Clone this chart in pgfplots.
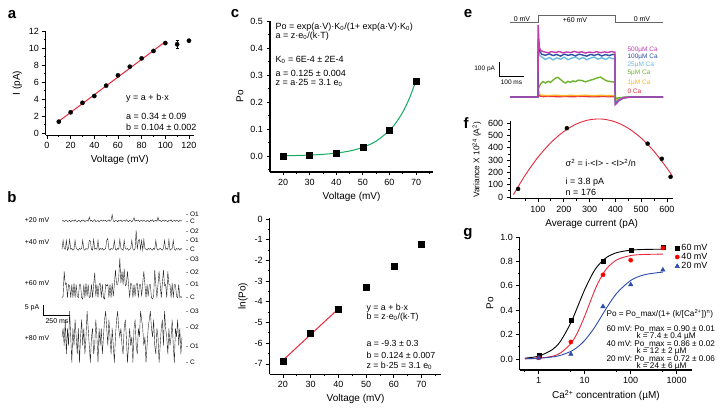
\documentclass[border=0pt]{standalone}
\usepackage{fontspec}
\setmainfont{Liberation Sans}
\usepackage{pgfplots}
\pgfplotsset{compat=1.18}
\newcommand{\fsz}[1]{\fontsize{#1}{#1}\selectfont}
\definecolor{fitred}{RGB}{230,40,60}
\definecolor{fitgreen}{RGB}{20,170,95}
\definecolor{cMag}{RGB}{195,60,175}
\definecolor{cDblue}{RGB}{45,80,165}
\definecolor{cLblue}{RGB}{105,185,225}
\definecolor{cGreen}{RGB}{110,180,45}
\definecolor{cOrange}{RGB}{250,180,40}
\definecolor{cRed}{RGB}{235,45,55}
\definecolor{gblue}{RGB}{45,75,170}
\pgfplotsset{
  panel/.style={
    scale only axis, clip=false, anchor=south west,
    axis lines=left, axis line style={-, line width=1.1pt},
    tick align=outside, tick style={black, line width=0.8pt},
    major tick length=3.5pt, minor tick length=2pt,
    tick label style={font=\fsz{9}},
    label style={font=\fsz{10}},
    /pgf/number format/assume math mode=true,
  },
  trace/.style={scale only axis, hide axis, clip=false, anchor=south west},
}
\begin{document}
\begin{tikzpicture}
\path[use as bounding box] (0,0) rectangle (726pt,410pt);
% panel letters
\node[font=\fsz{15}\bfseries] at (12pt,395pt) {a};
\node[font=\fsz{15}\bfseries] at (12pt,213pt) {b};
\node[font=\fsz{15}\bfseries] at (235pt,396pt) {c};
\node[font=\fsz{15}\bfseries] at (236pt,212pt) {d};
\node[font=\fsz{15}\bfseries] at (468pt,396pt) {e};
\node[font=\fsz{15}\bfseries] at (466pt,287pt) {f};
\node[font=\fsz{15}\bfseries] at (468pt,176pt) {g};

% ---------------- panel a
\begin{axis}[panel, at={(45.8pt,274.9pt)}, width=147.9pt, height=104.1pt,
  xmin=-1, xmax=124, ymin=-0.25, ymax=12,
  xtick={0,20,40,60,80,100,120}, minor xtick={10,30,50,70,90,110},
  ytick={0,2,4,6,8,10,12}, minor ytick={1,3,5,7,9,11},
  xlabel={Voltage (mV)}, ylabel={I (pA)}]
\addplot[fitred, line width=1pt] coordinates {(10,1.38)(100,10.74)};
\addplot[only marks, mark=*, mark size=2.1pt, black,
  error bars/.cd, y dir=both, y explicit, error mark options={rotate=90, mark size=1.5pt}]
  coordinates {(10,1.33)+-(0,0) (20,2.43)+-(0,0.08) (30,3.55)+-(0,0.2) (40,4.35)+-(0,0.08)
  (50,5.57)+-(0,0.08) (60,6.78)+-(0,0.08) (70,7.8)+-(0,0.08) (80,8.78)+-(0,0.08)
  (90,9.65)+-(0,0.08) (100,10.58)+-(0,0.15) (110,10.43)+-(0,0.45) (120,10.86)+-(0,0)};
\node[anchor=west, font=\fsz{9}] at (axis cs:64,4.1) {y = a + b·x};
\node[anchor=west, font=\fsz{9}] at (axis cs:64,1.9) {a = 0.34 ± 0.09};
\node[anchor=west, font=\fsz{9}] at (axis cs:64,0.7) {b = 0.104 ± 0.002};
\end{axis}

% ---------------- panel b
\begin{axis}[trace, at={(62pt,40pt)}, width=120pt, height=165pt,
  xmin=0, xmax=1100, ymin=0, ymax=82.5]
% +20 mV
\addplot[black!85, line width=0.4pt] table[row sep=\\, x expr=\coordindex*10, y expr=74.5+3.2*\thisrow{l}] {
l\\ 0\\ 0.1\\ -0.1\\ 0.05\\ 0.15\\ -0.1\\ 0\\ 0.1\\ -0.15\\ 0.05\\
0.1\\ -0.05\\ 0.2\\ 0\\ -0.1\\ 0.1\\ 0.05\\ -0.15\\ 0.1\\ 0\\
0.15\\ -0.1\\ 0.05\\ 0.1\\ -0.05\\ 0.6\\ 0\\ 0.1\\ -0.1\\ 0.05\\
0.2\\ -0.1\\ 0\\ 0.1\\ -0.15\\ 0.05\\ 0.15\\ -0.05\\ 0.1\\ 0\\
0.1\\ -0.1\\ 0.05\\ 0.2\\ -0.05\\ 0.1\\ 1.0\\ 0\\ -0.1\\ 0.1\\
0.05\\ -0.15\\ 0.1\\ 0\\ 0.15\\ -0.1\\ 0.05\\ 0.1\\ -0.05\\ 0.2\\
0\\ -0.1\\ 0.1\\ 0.05\\ -0.15\\ 0.1\\ 0.5\\ -0.05\\ 0.1\\ 0\\
0.15\\ -0.1\\ 0.05\\ 0.1\\ -0.05\\ 0.15\\ 0\\ -0.1\\ 0.1\\ 0.05\\
-0.15\\ 0.1\\ 0\\ 0.2\\ -0.1\\ 0.05\\ 0.1\\ -0.05\\ 0.6\\ 0\\
0.1\\ -0.1\\ 0.05\\ 0.15\\ -0.05\\ 0.1\\ 0\\ -0.15\\ 0.1\\ 0.05\\
0.2\\ -0.1\\ 0\\ 0.1\\ -0.05\\ 0.15\\ 0.05\\ -0.1\\ 0.1\\ 0\\ 0.05\\
};
% +40 mV
\addplot[black!85, line width=0.4pt] table[row sep=\\, x expr=\coordindex*10, y expr=60.35+4.5*\thisrow{l}] {
l\\ 0\\ 1\\ 0.1\\ 0\\ 1\\ -0.1\\ 0.1\\ 1.1\\ 0\\ 0.1\\
-0.1\\ 0\\ 1\\ 0.1\\ 0\\ -0.1\\ 0.1\\ 0\\ 0.1\\ 1\\
0\\ -0.1\\ 0.1\\ 0\\ 0.1\\ 1\\ 0.9\\ 0\\ -0.1\\ 1.1\\
0\\ 0.1\\ 0\\ 1\\ -0.1\\ 0.1\\ 0\\ 0.1\\ -0.1\\ 0\\
0.1\\ 1\\ 1.2\\ 0\\ -0.1\\ 0.1\\ 0\\ 0.1\\ 1\\ 0\\
-0.1\\ 0.1\\ 0\\ 1.1\\ 0.1\\ 0\\ -0.1\\ 1\\ 0.1\\ 0\\
0.1\\ -0.1\\ 0\\ 0.1\\ 1\\ 0\\ -0.1\\ 0.1\\ 2.1\\ 0\\
1\\ 1.1\\ 0\\ 1\\ -0.1\\ 1.1\\ 0.1\\ 0\\ -0.1\\ 0.1\\
0\\ 0.1\\ 0\\ -0.1\\ 0.1\\ 0\\ 1\\ 0.1\\ -0.1\\ 0\\
0.1\\ 0\\ -0.1\\ 0.1\\ 1\\ 0\\ 0.1\\ 0\\ 1.1\\ -0.1\\
0\\ 0.1\\ 1\\ 0\\ -0.1\\ 0.1\\ 0\\ 0.1\\ -0.1\\ 0.1\\ 0\\
};
% +60 mV
\addplot[black!85, line width=0.4pt] table[row sep=\\, x expr=\coordindex*10, y expr=36.15+6.6*\thisrow{l}] {
l\\ 0\\ 0.1\\ 2.0\\ 1\\ 1.1\\ 0\\ 1\\ 0.9\\ 0\\ 1\\
0\\ 1.1\\ 0\\ 1\\ 0.1\\ 0\\ 1\\ 1\\ 0\\ -0.1\\
1\\ 0\\ 1.1\\ 0.1\\ 1\\ 0\\ 0.1\\ 1\\ 0\\ 1\\
1.9\\ 0.1\\ 1\\ 0\\ 1\\ 1.1\\ 0\\ 1\\ 0\\ -0.1\\
1\\ 0.9\\ 1\\ 0\\ 1\\ 0\\ 1.1\\ 0.1\\ 1\\ 2.1\\
1\\ 1\\ 1.5\\ 3\\ 1.1\\ 2\\ 1\\ 2.2\\ 0.9\\ 1\\
2\\ 1\\ 0\\ 1.1\\ 1\\ 0\\ 1\\ 0.1\\ 1\\ 1.1\\
0\\ 1\\ 1\\ 0.1\\ 1.1\\ 2\\ 1\\ 0\\ 1\\ 0.1\\
1\\ 1\\ 0\\ -0.1\\ 0.1\\ 2.1\\ 1\\ 0\\ 1\\ 2\\
1\\ 0\\ 1.1\\ 2.1\\ 0.9\\ 1\\ 0\\ 2\\ 1\\ 1\\
0\\ 1.1\\ 0\\ 1\\ 1\\ 0.1\\ 0\\ 1\\ 0\\ 0.1\\ 0\\
};
% +80 mV
\addplot[black!85, line width=0.4pt] table[row sep=\\, x expr=\coordindex*10, y expr=3.65+8.6*\thisrow{l}] {
l\\ 1.5\\ 2\\ 1\\ 2.5\\ 0.5\\ 2\\ 1\\ 3\\ 1.5\\ 0\\
2\\ 1\\ 2.5\\ 1.5\\ 0.5\\ 2\\ 0\\ 1.5\\ 2.5\\ 1\\
2\\ 0.5\\ 1.5\\ 3\\ 2\\ 1\\ 0\\ 1.5\\ 2\\ 0.5\\
1\\ 2.5\\ 1.5\\ 0\\ 2\\ 1\\ 2\\ 0.5\\ 1.5\\ 2.5\\
3\\ 2\\ 1\\ 2.5\\ 1.5\\ 0.5\\ 2\\ 1\\ 0\\ 1.5\\
2.5\\ 3\\ 2\\ 1.5\\ 2\\ 1\\ 0.5\\ 2\\ 2.5\\ 1.5\\
0\\ 1\\ 2\\ 1\\ 1.5\\ 0\\ 2\\ 2.5\\ 1\\ 0.5\\
2\\ 1.5\\ 3\\ 2.5\\ 2\\ 1\\ 1.5\\ 0\\ 1\\ 2\\
2.5\\ 3\\ 2\\ 1.5\\ 2.5\\ 1\\ 0.5\\ 2\\ 1.5\\ 0\\
1\\ 2\\ 2.5\\ 1\\ 3\\ 2\\ 1.5\\ 0.5\\ 2\\ 1\\
1.5\\ 2.5\\ 1\\ 0\\ 2\\ 1.5\\ 2.5\\ 1\\ 2\\ 0.5\\ 1.5\\
};
% scale bar
\addplot[black, line width=0.6pt] coordinates {(-174,32.5)(-174,27.5)(73,27.5)};
\node[anchor=east, font=\fsz{7}] at (axis cs:-176,31) {5 pA};
\node[anchor=north, font=\fsz{7}] at (axis cs:-46,27.5) {250 ms};
% left labels
\node[anchor=east, font=\fsz{7}] at (axis cs:-85,75) {+20 mV};
\node[anchor=east, font=\fsz{7}] at (axis cs:-85,64) {+40 mV};
\node[anchor=east, font=\fsz{7}] at (axis cs:-85,43.5) {+60 mV};
\node[anchor=east, font=\fsz{7}] at (axis cs:-85,16) {+80 mV};
% right labels
\node[anchor=west, font=\fsz{6.5}] at (axis cs:1105,77.85) {- O1};
\node[anchor=west, font=\fsz{6.5}] at (axis cs:1105,74.5) {- C};
\node[anchor=west, font=\fsz{6.5}] at (axis cs:1105,69.5) {- O2};
\node[anchor=west, font=\fsz{6.5}] at (axis cs:1105,64.85) {- O1};
\node[anchor=west, font=\fsz{6.5}] at (axis cs:1105,60.35) {- C};
\node[anchor=west, font=\fsz{6.5}] at (axis cs:1105,55.5) {- O3};
\node[anchor=west, font=\fsz{6.5}] at (axis cs:1105,48.65) {- O2};
\node[anchor=west, font=\fsz{6.5}] at (axis cs:1105,43) {- O1};
\node[anchor=west, font=\fsz{6.5}] at (axis cs:1105,36.15) {- C};
\node[anchor=west, font=\fsz{6.5}] at (axis cs:1105,29.5) {- O3};
\node[anchor=west, font=\fsz{6.5}] at (axis cs:1105,21.15) {- O2};
\node[anchor=west, font=\fsz{6.5}] at (axis cs:1105,11.65) {- O1};
\node[anchor=west, font=\fsz{6.5}] at (axis cs:1105,3.65) {- C};
\end{axis}

% ---------------- panel c
\begin{axis}[panel, at={(270pt,238pt)}, width=163.1pt, height=150.9pt,
  xmin=15.1, xmax=76.4, ymin=-0.059, ymax=0.5,
  xtick={20,30,40,50,60,70}, minor xtick={25,35,45,55,65,75},
  ytick={0,0.1,0.2,0.3,0.4,0.5}, minor ytick={-0.05,0.05,0.15,0.25,0.35,0.45},
  yticklabel style={/pgf/number format/.cd, fixed, fixed zerofill, precision=1},
  xlabel={Voltage (mV)}, ylabel={Po}]
\addplot[fitgreen, line width=1pt, smooth] coordinates {(20,0.00126)(25,0.00217)(30,0.00372)(35,0.0064)(40,0.011)(45,0.0188)(50,0.0323)(55,0.0554)(60,0.095)(62.5,0.1245)(65,0.163)(67.5,0.214)(70,0.28)};
\addplot[only marks, mark=square*, mark size=3pt, black] coordinates {(20,0.0)(30,0.004)(40,0.010)(50,0.034)(60,0.094)(70,0.279)};
\node[anchor=west, font=\fsz{9}] at (axis cs:15.9,0.478) {Po = exp(a·V)·K\textsubscript{0}/(1+ exp(a·V)·K\textsubscript{0})};
\node[anchor=west, font=\fsz{9}] at (axis cs:15.9,0.444) {a = z·e\textsubscript{0}/(k·T)};
\node[anchor=west, font=\fsz{9}] at (axis cs:15.9,0.356) {K\textsubscript{0} = 6E-4 ± 2E-4};
\node[anchor=west, font=\fsz{9}] at (axis cs:15.9,0.307) {a = 0.125 ± 0.004};
\node[anchor=west, font=\fsz{9}] at (axis cs:15.9,0.270) {z = a·25 = 3.1 e\textsubscript{0}};
\end{axis}

% ---------------- panel d
\begin{axis}[panel, at={(269.7pt,35.75pt)}, width=171.7pt, height=156.3pt,
  xmin=15.2, xmax=77.2, ymin=-7.5, ymax=0.05,
  xtick={20,30,40,50,60,70}, minor xtick={25,35,45,55,65,75},
  ytick={-7,-6,-5,-4,-3,-2,-1,0}, minor ytick={-6.5,-5.5,-4.5,-3.5,-2.5,-1.5,-0.5},
  xlabel={Voltage (mV)}, ylabel={ln(Po)}]
\addplot[fitred, line width=1pt] coordinates {(20,-6.82)(40,-4.34)};
\addplot[only marks, mark=square*, mark size=3pt, black] coordinates {(20,-6.89)(30,-5.52)(40,-4.36)(50,-3.30)(60,-2.30)(70,-1.21)};
\node[anchor=west, font=\fsz{8.8}] at (axis cs:48.9,-4.30) {y = a + b·x};
\node[anchor=west, font=\fsz{8.8}] at (axis cs:48.9,-4.75) {b = z·e\textsubscript{0}/(k·T)};
\node[anchor=west, font=\fsz{8.8}] at (axis cs:48.9,-5.99) {a = -9.3 ± 0.3};
\node[anchor=west, font=\fsz{8.8}] at (axis cs:48.9,-6.60) {b = 0.124 ± 0.007};
\node[anchor=west, font=\fsz{8.8}] at (axis cs:48.9,-7.10) {z = b·25 = 3.1 e\textsubscript{0}};
\end{axis}

% ---------------- panel e
\begin{axis}[trace, at={(510pt,304.6pt)}, width=153pt, height=91pt,
  xmin=-112, xmax=500, ymin=-60, ymax=590]
\addplot[black!60, line width=0.9pt] coordinates {(-112,529)(0,529)(0,586)(308,586)(308,529)(500,529)};
\addplot[cRed, line width=1.4pt] coordinates {(-112,0)(0,0)(2,30)(6,8)(20,3)(50,5)(80,2)(110,4)(140,2)(170,5)(200,3)(230,2)(260,4)(290,2)(308,3)(310,-25)(325,-8)(350,-2)(400,0)(500,0)};
\addplot[cOrange, line width=1.4pt] coordinates {(-112,0)(0,0)(2,50)(6,20)(15,12)(40,10)(70,13)(100,9)(130,12)(160,10)(190,13)(220,9)(250,12)(280,10)(306,11)(310,-25)(325,-8)(350,-2)(400,0)(500,0)};
\addplot[cGreen, line width=1.4pt] coordinates {(-112,0)(0,0)(2,60)(10,95)(20,110)(30,100)(40,112)(50,105)(60,120)(70,135)(80,140)(90,125)(100,110)(110,100)(120,112)(130,105)(140,115)(150,110)(160,120)(175,118)(190,108)(205,118)(220,125)(235,135)(250,142)(262,128)(275,115)(290,110)(306,105)(308,90)(310,-10)(325,-5)(360,0)(500,0)};
\addplot[cLblue, line width=1.4pt] coordinates {(-112,0)(0,0)(1,400)(5,300)(15,285)(30,268)(45,282)(60,265)(75,280)(90,270)(105,284)(120,266)(135,278)(150,286)(165,270)(180,282)(195,266)(210,278)(225,285)(240,270)(255,281)(270,268)(285,283)(300,272)(308,278)(309,-40)(320,-20)(340,-5)(370,0)(500,0)};
\addplot[cDblue, line width=1.4pt] coordinates {(-112,0)(0,0)(1,420)(5,330)(15,305)(30,298)(45,308)(60,296)(75,304)(90,292)(105,306)(120,298)(135,303)(150,294)(165,306)(180,299)(195,292)(210,304)(225,297)(240,306)(255,293)(270,303)(285,296)(300,305)(308,300)(309,-50)(320,-30)(340,-8)(370,0)(500,0)};
\addplot[cMag, line width=1.4pt] coordinates {(-112,0)(0,0)(0.5,515)(3,420)(6,350)(12,330)(25,322)(40,316)(55,324)(70,318)(85,325)(100,315)(115,322)(130,317)(145,326)(160,318)(175,323)(190,314)(205,321)(220,317)(235,324)(250,316)(265,322)(280,318)(295,325)(306,320)(308,320)(309,-55)(315,-45)(325,-20)(345,-5)(380,0)(500,0)};
% scale bar
\addplot[black, line width=0.7pt] coordinates {(-156,250)(-156,150)(-56,150)};
\node[anchor=east, font=\fsz{6.5}] at (axis cs:-158,200) {100 pA};
\node[anchor=north, font=\fsz{6.5}] at (axis cs:-106,150) {100 ms};
\node[anchor=south, font=\fsz{7}, inner sep=0.8pt] at (axis cs:-64,529) {0 mV};
\node[font=\fsz{7}] at (axis cs:148,552) {+60 mV};
\node[anchor=south, font=\fsz{7}, inner sep=0.8pt] at (axis cs:416,529) {0 mV};
\end{axis}
\node[anchor=west, font=\fsz{6.5}, text=cMag] at (624pt,360pt) {500µM Ca};
\node[anchor=west, font=\fsz{6.5}, text=cDblue] at (624pt,353pt) {100µM Ca};
\node[anchor=west, font=\fsz{6.5}, text=cLblue] at (624pt,345pt) {25µM Ca};
\node[anchor=west, font=\fsz{6.5}, text=cGreen] at (624pt,337pt) {5µM Ca};
\node[anchor=west, font=\fsz{6.5}, text=cOrange] at (624pt,327pt) {1µM Ca};
\node[anchor=west, font=\fsz{6.5}, text=cRed] at (624pt,319pt) {0 Ca};

% ---------------- panel f
\begin{axis}[panel, at={(510.1pt,211.2pt)}, width=163.3pt, height=78pt,
  xmin=-8, xmax=625, ymin=-15, ymax=620,
  xtick={100,200,300,400,500,600}, minor xtick={50,150,250,350,450,550},
  ytick={0,100,200,300,400,500,600}, minor ytick={50,150,250,350,450,550},
  xlabel={Average current (pA)}, ylabel={Variance X 10\textsuperscript{24} (A\textsuperscript{2})},
  ylabel style={font=\fsz{8.3}}]
\addplot[fitred, line width=0.9pt, smooth] coordinates {(5,18.9)(50,175.8)(100,323.2)(150,442.2)(200,532.7)(250,594.9)(300,628.6)(350,634.0)(400,610.9)(450,559.4)(500,479.5)(550,371.2)(600,234.5)(620,171.9)};
\addplot[only marks, mark=*, mark size=2pt, black] coordinates {(23,65)(212,560)(525,434)(580,311)(614,164)};
\node[anchor=west, font=\fsz{9}] at (axis cs:194,277) {σ\textsuperscript{2} = i·<I> - <I>\textsuperscript{2}/n};
\node[anchor=west, font=\fsz{9}] at (axis cs:194,122) {i = 3.8 pA};
\node[anchor=west, font=\fsz{9}] at (axis cs:194,41) {n = 176};
\end{axis}

% ---------------- panel g
\begin{axis}[panel, at={(519.9pt,40pt)}, width=172.1pt, height=133pt,
  xmode=log, log basis x=10, xmin=0.39, xmax=2150, ymin=-0.09, ymax=1.0,
  xtick={1,10,100,1000}, xticklabels={1,10,100,1000}, minor xtick={0.5,5,50,500},
  ytick={0,0.2,0.4,0.6,0.8,1.0}, minor ytick={0.1,0.3,0.5,0.7,0.9},
  yticklabel style={/pgf/number format/.cd, fixed, fixed zerofill, precision=1},
  xlabel={Ca\textsuperscript{2+} concentration (µM)}, ylabel={Po},
  legend style={at={(rel axis cs:0.90,0.965)}, anchor=north west, draw=none, fill=none, font=\fsz{9}, row sep=-2.5pt, inner sep=0pt},
  legend cell align=left]
\addplot[black, line width=0.9pt, smooth, forget plot] coordinates {(0.5,0.0070)(1,0.0239)(2,0.078)(3,0.148)(5,0.297)(7,0.428)(10,0.569)(15,0.703)(20,0.771)(30,0.833)(50,0.872)(100,0.892)(200,0.898)(500,0.900)};
\addplot[fitred, line width=0.9pt, smooth, forget plot] coordinates {(0.5,0.0015)(1,0.0059)(2,0.0232)(3,0.0506)(5,0.127)(7,0.218)(10,0.352)(15,0.524)(20,0.632)(30,0.741)(50,0.813)(100,0.848)(200,0.857)(500,0.8595)};
\addplot[gblue, line width=0.9pt, smooth, forget plot] coordinates {(0.5,0.00216)(1,0.00607)(2,0.0169)(3,0.0305)(5,0.0625)(7,0.098)(10,0.1526)(15,0.238)(20,0.311)(30,0.420)(50,0.540)(100,0.644)(200,0.691)(500,0.7125)};
\addplot[only marks, mark=square*, mark size=2pt, black] coordinates {(1,0.03)(5,0.32)(25,0.80)(100,0.89)(500,0.92)};
\addlegendentry{60 mV}
\addplot[only marks, mark=*, mark size=2.1pt, red] coordinates {(1,0.01)(5,0.14)(25,0.69)(100,0.81)(500,0.91)};
\addlegendentry{40 mV}
\addplot[only marks, mark=triangle*, mark size=2.6pt, gblue] coordinates {(1,0.01)(5,0.04)(25,0.43)(100,0.61)(500,0.73)};
\addlegendentry{20 mV}
\node[anchor=west, font=\fsz{8.2}] at (axis cs:25,0.369) {Po = Po\_max/(1+ (k/[Ca\textsuperscript{2+}])\textsuperscript{n})};
\node[anchor=west, font=\fsz{8.2}] at (axis cs:25,0.246) {60 mV: Po\_max = 0.90 ± 0.01};
\node[anchor=west, font=\fsz{8.2}] at (axis cs:112,0.189) {k = 7.4 ± 0.4 µM};
\node[anchor=west, font=\fsz{8.2}] at (axis cs:25,0.123) {40 mV: Po\_max = 0.86 ± 0.02};
\node[anchor=west, font=\fsz{8.2}] at (axis cs:112,0.066) {k = 12 ± 2 µM};
\node[anchor=west, font=\fsz{8.2}] at (axis cs:25,0.0) {20 mV: Po\_max = 0.72 ± 0.06};
\node[anchor=west, font=\fsz{8.2}] at (axis cs:112,-0.057) {k = 24 ± 6 µM};
\end{axis}
\end{tikzpicture}
\end{document}
